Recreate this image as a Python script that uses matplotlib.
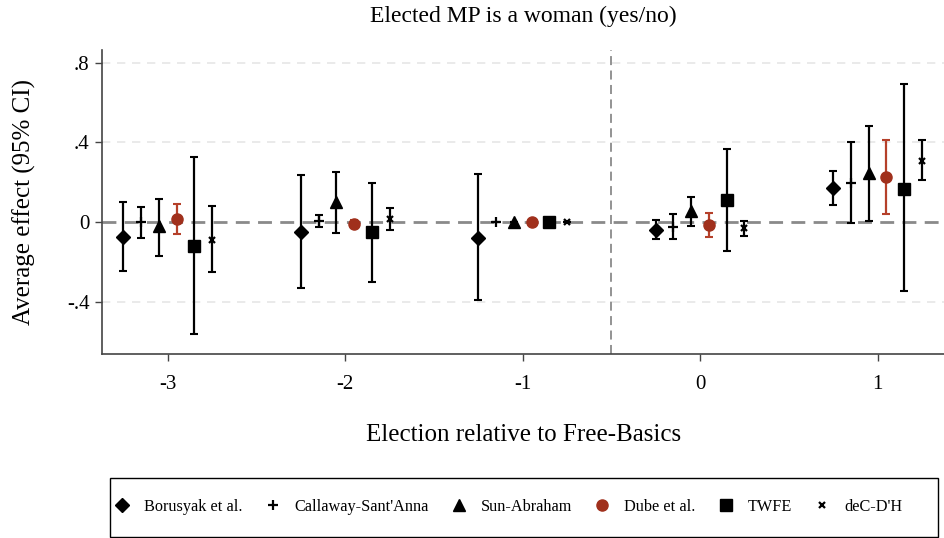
import matplotlib.pyplot as plt
from matplotlib.patches import Rectangle
import numpy as np

plt.rcParams['font.family'] = ['Liberation Serif', 'DejaVu Serif']

periods = [-3, -2, -1, 0, 1]
methods = ["Borusyak et al.", "Callaway-Sant'Anna", "Sun-Abraham", "Dube et al.", "TWFE", "deC-D'H"]

# point estimates and 95% CI bounds by method, one value per period
borusyak = [-0.075, -0.049, -0.079, -0.038, 0.171]
borusyak_lo = [-0.248, -0.332, -0.392, -0.087, 0.087]
borusyak_hi = [0.099, 0.237, 0.240, 0.012, 0.254]

callaway = [0.0, 0.003, 0.0, -0.023, 0.197]
callaway_lo = [-0.079, -0.025, 0.0, -0.085, -0.003]
callaway_hi = [0.077, 0.037, 0.0, 0.040, 0.400]

sun_abraham = [-0.022, 0.101, 0.0, 0.055, 0.248]
sun_abraham_lo = [-0.171, -0.057, 0.0, -0.018, 0.003]
sun_abraham_hi = [0.117, 0.250, 0.0, 0.124, 0.482]

dube = [0.013, -0.010, 0.0, -0.017, 0.226]
dube_lo = [-0.062, -0.030, 0.0, -0.077, 0.042]
dube_hi = [0.092, 0.012, 0.0, 0.044, 0.410]

twfe = [-0.122, -0.050, 0.0, 0.109, 0.167]
twfe_lo = [-0.565, -0.302, 0.0, -0.146, -0.348]
twfe_hi = [0.327, 0.198, 0.0, 0.365, 0.691]

dcdh = [-0.089, 0.013, 0.0, -0.032, 0.308]
dcdh_lo = [-0.252, -0.039, 0.0, -0.070, 0.209]
dcdh_hi = [0.081, 0.069, 0.0, 0.007, 0.410]

red = '#a0301c'
series = [
    (borusyak, borusyak_lo, borusyak_hi, 'D', 7.5, 'black', 'black'),
    (callaway, callaway_lo, callaway_hi, '+', 7, 'black', 'black'),
    (sun_abraham, sun_abraham_lo, sun_abraham_hi, '^', 8.5, 'black', 'black'),
    (dube, dube_lo, dube_hi, 'o', 8, red, '#b5402a'),
    (twfe, twfe_lo, twfe_hi, 's', 8.5, 'black', 'black'),
    (dcdh, dcdh_lo, dcdh_hi, 'x', 4.5, 'black', 'black'),
]
offsets = [-0.25, -0.15, -0.05, 0.05, 0.15, 0.25]

fig = plt.figure(figsize=(9.45, 5.38), dpi=100)
ax = fig.add_axes([0.108, 0.342, 0.892, 0.565])

ax.set_xlim(-3.37, 1.38)
ax.set_ylim(-0.663, 0.864)

for yv in [-0.4, 0.4, 0.8]:
    ax.axhline(yv, color='#e6e6e6', lw=1.2, ls=(0, (5, 4)), zorder=0)
ax.axhline(0, color='#8a8a8a', lw=2, ls=(0, (5, 3)), zorder=1)
ax.axvline(-0.5, color='#8a8a8a', lw=1.3, ls=(0, (5, 3)), zorder=1)

handles = []
for (est, lo, hi, mk, ms, col, ecol), off, name in zip(series, offsets, methods):
    x = np.array(periods) + off
    est = np.array(est)
    yerr = [est - np.array(lo), np.array(hi) - est]
    ax.errorbar(x, est, yerr=yerr, fmt='none', ecolor=ecol, elinewidth=1.6,
                capsize=3, capthick=1.5, zorder=2)
    mew = 1.6 if mk in ('+', 'x') else 1
    h, = ax.plot(x, est, ls='none', marker=mk, ms=ms, color=col, mec=col,
                 mew=mew, zorder=3, label=name)
    handles.append(h)

ax.set_xticks(periods)
ax.set_xticklabels([str(p) for p in periods])
ax.set_yticks([-0.4, 0, 0.4, 0.8])
ax.set_yticklabels(['-.4', '0', '.4', '.8'])
ax.tick_params(axis='both', labelsize=15, length=5, color='#444444', width=1)
ax.tick_params(axis='x', pad=10)
ax.tick_params(axis='y', pad=4)

for side in ['top', 'right']:
    ax.spines[side].set_visible(False)
for side in ['left', 'bottom']:
    ax.spines[side].set_color('#444444')
    ax.spines[side].set_linewidth(1.2)

ax.set_title('Elected MP is a woman (yes/no)', fontsize=17, pad=20)
ax.set_ylabel('Average effect (95% CI)', fontsize=18, labelpad=22)
ax.set_xlabel('Election relative to Free-Basics', fontsize=18, labelpad=22)

# legend box drawn separately so its padding can be set per side
fig.patches.append(Rectangle((110 / 945, 1 - 537 / 538), 828 / 945, 59 / 538,
                             transform=fig.transFigure, fill=False,
                             edgecolor='black', lw=1.0))
leg = fig.legend(handles=handles, loc='center left', bbox_to_anchor=(114 / 945, 1 - 507 / 538),
                 ncol=6, fontsize=11.7, frameon=False, borderpad=0, borderaxespad=0,
                 handlelength=1.0, handletextpad=0.85, columnspacing=1.35,
                 markerscale=1.0)

fig.savefig('out.png', dpi=100)
